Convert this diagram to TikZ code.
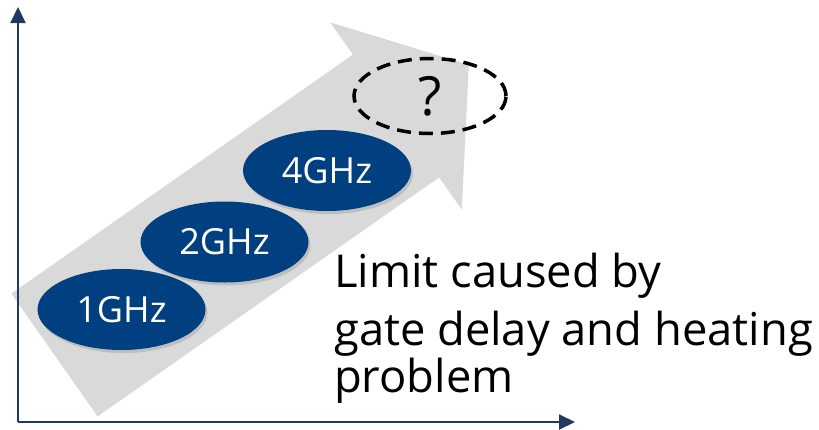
\documentclass[tikz,border=0pt]{standalone}
\usepackage{fontspec}
\setmainfont{Open Sans}
\usetikzlibrary{shapes.geometric,shadows,arrows.meta}

\definecolor{axisblue}{HTML}{1F3864}
\definecolor{ghzblue}{HTML}{003F80}
\definecolor{trendgray}{HTML}{D9D9D9}

\begin{document}
\begin{tikzpicture}[x=1pt, y=-1pt,
    freq/.style={ellipse, fill=ghzblue, text=white, inner sep=0pt,
        minimum width=168pt, minimum height=81pt,
        font=\fontsize{36}{40}\selectfont,
        drop shadow={shadow xshift=2pt, shadow yshift=-3pt, opacity=.3}},
    unknown/.style={ellipse, draw=black, line width=3.5pt, inner sep=0pt,
        dash pattern=on 14pt off 8pt,
        minimum width=152pt, minimum height=75pt,
        font=\fontsize{54}{58}\selectfont},
    axis/.style={draw=axisblue, line width=2pt,
        -{Triangle[length=16pt, width=15pt]}}]

    \useasboundingbox (0,0) rectangle (819,429);

    % Trend arrow
    \fill[trendgray] (11.4,293.6) -- (97.6,416.4) -- (439.1,177.4)
        -- (461.8,209.7) -- (468.8,64.8) -- (330.2,22.3)
        -- (352.9,54.6) -- cycle;

    % Axes
    \coordinate (O) at (18,422);
    \coordinate (ytop) at (18,7);
    \coordinate (xend) at (575,422);
    \draw[axis] (O) -- (ytop);
    \draw[axis] (O) -- (xend);

    % Frequencies
    \node[freq] (f1) at (121.5,309.5) {1GHz};
    \node[freq] (f2) at (224.5,242) {2GHz};
    \node[freq] (f4) at (327,170.5) {4GHz};
    \node[unknown] (next) at (430,96) {?};

    % Comment
    \node[anchor=base west, inner sep=0pt, align=left,
        font=\fontsize{45.3}{47}\selectfont] (limit) at (334,392)
        {Limit caused by\\[11pt] gate delay and heating\\ problem};

\end{tikzpicture}
\end{document}
